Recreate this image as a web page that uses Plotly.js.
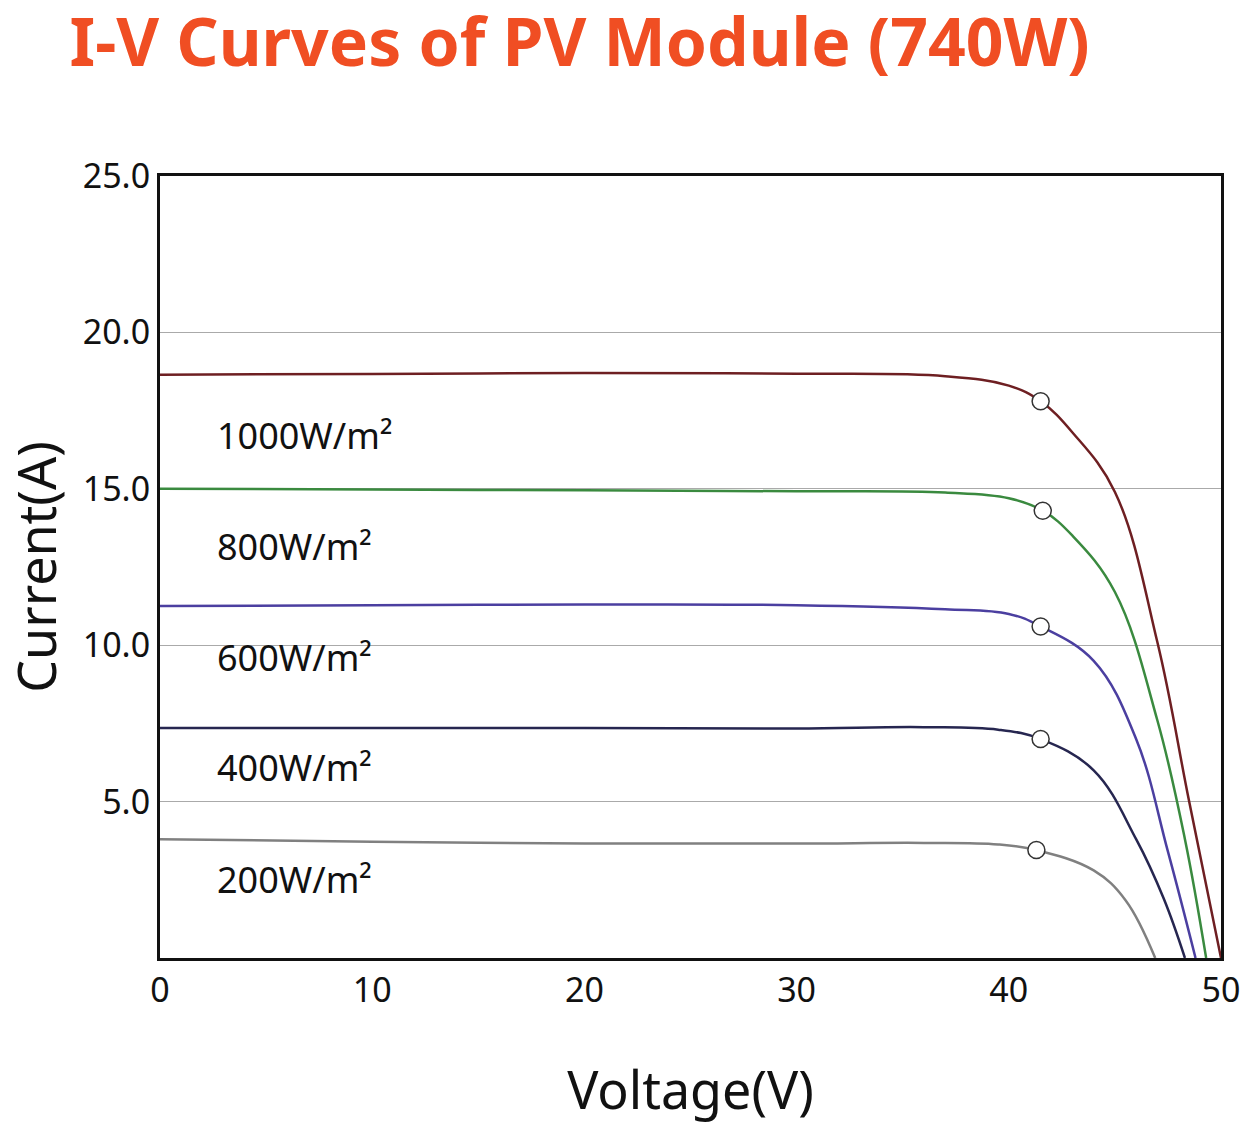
<!DOCTYPE html>
<html>
<head>
<meta charset="utf-8">
<script src="https://cdn.plot.ly/plotly-3.0.1.min.js"></script>
<style>body{margin:0;background:#fff}#chart{width:1241px;height:1127px}</style>
</head>
<body>
<div id="chart"></div>
<script>
// irradiance levels and I-V samples
const labels = ['1000W/m²', '800W/m²', '600W/m²', '400W/m²', '200W/m²'];
const colors = ['#6e1f22', '#3a8a3f', '#4b3fa0', '#262650', '#808080'];

const v1000 = [0, 10, 20, 30, 37, 40, 41.5, 43, 45, 47, 48.5, 50];
const i1000 = [18.65, 18.67, 18.7, 18.68, 18.6, 18.3, 17.8, 16.8, 14.9, 10.1, 5.0, 0];
const v800 = [0, 10, 20, 30, 37, 40, 41.6, 43, 45, 47, 48.3, 49.3];
const i800 = [15.0, 14.98, 14.95, 14.92, 14.88, 14.7, 14.3, 13.5, 11.7, 7.6, 3.8, 0];
const v600 = [0, 10, 20, 30, 37, 40, 41.5, 44, 46, 47.5, 48.8];
const i600 = [11.25, 11.28, 11.3, 11.28, 11.15, 11.0, 10.6, 9.5, 7.0, 3.4, 0];
const v400 = [0, 10, 20, 30, 36, 39.5, 41.5, 44, 46, 47.3, 48.3];
const i400 = [7.35, 7.35, 7.35, 7.34, 7.38, 7.3, 7.0, 6.0, 3.8, 1.9, 0];
const v200 = [0, 10, 20, 30, 36, 39.5, 41.3, 44, 45.5, 46.9];
const i200 = [3.8, 3.72, 3.66, 3.66, 3.68, 3.63, 3.45, 2.8, 1.85, 0];

const mppV = [41.5, 41.6, 41.5, 41.5, 41.3];
const mppI = [17.8, 14.3, 10.6, 7.0, 3.45];
const labelY = [16.7, 13.15, 9.6, 6.1, 2.5];

const curves = [[v1000, i1000], [v800, i800], [v600, i600], [v400, i400], [v200, i200]];

const data = curves.map((c, k) => ({
	x: c[0], y: c[1], mode: 'lines', line: {color: colors[k], width: 2.5, shape: 'spline', smoothing: 1.1},
	showlegend: false, hoverinfo: 'x+y'
}));
data.push({
	x: mppV, y: mppI, mode: 'markers', showlegend: false,
	marker: {size: 17, color: '#fff', line: {color: '#333', width: 1.5}}
});

const layout = {
	width: 1241, height: 1127,
	margin: {l: 160, r: 20, t: 176, b: 169},
	paper_bgcolor: '#fff', plot_bgcolor: '#fff',
	font: {family: 'Noto Sans, sans-serif', color: '#111'},
	title: {text: '<b>I-V Curves of PV Module (740W)</b>', x: 0.056, xanchor: 'left', y: 0.962, yanchor: 'middle',
		font: {size: 66, color: '#f04e23'}},
	xaxis: {range: [0, 50], tickvals: [0, 10, 20, 30, 40, 50], showgrid: false, zeroline: false,
		showline: true, linecolor: '#111', linewidth: 3, mirror: true, ticks: '', ticklen: 0,
		tickfont: {size: 34}, title: {text: 'Voltage(V)', font: {size: 52}, standoff: 62}},
	yaxis: {range: [0, 25], tickvals: [5, 10, 15, 20, 25], tickformat: '.1f', showgrid: true, gridcolor: '#aaa', gridwidth: 1,
		zeroline: false, showline: true, linecolor: '#111', linewidth: 3, mirror: true, ticks: '',
		tickfont: {size: 34}, title: {text: 'Current(A)', font: {size: 52}, standoff: 24}},
	annotations: labels.map((t, k) => ({x: 2.6, y: labelY[k], text: t, showarrow: false, xanchor: 'left',
		font: {size: 36, color: '#111'}}))
};

Plotly.newPlot('chart', data, layout, {displayModeBar: false});
</script>
</body>
</html>
